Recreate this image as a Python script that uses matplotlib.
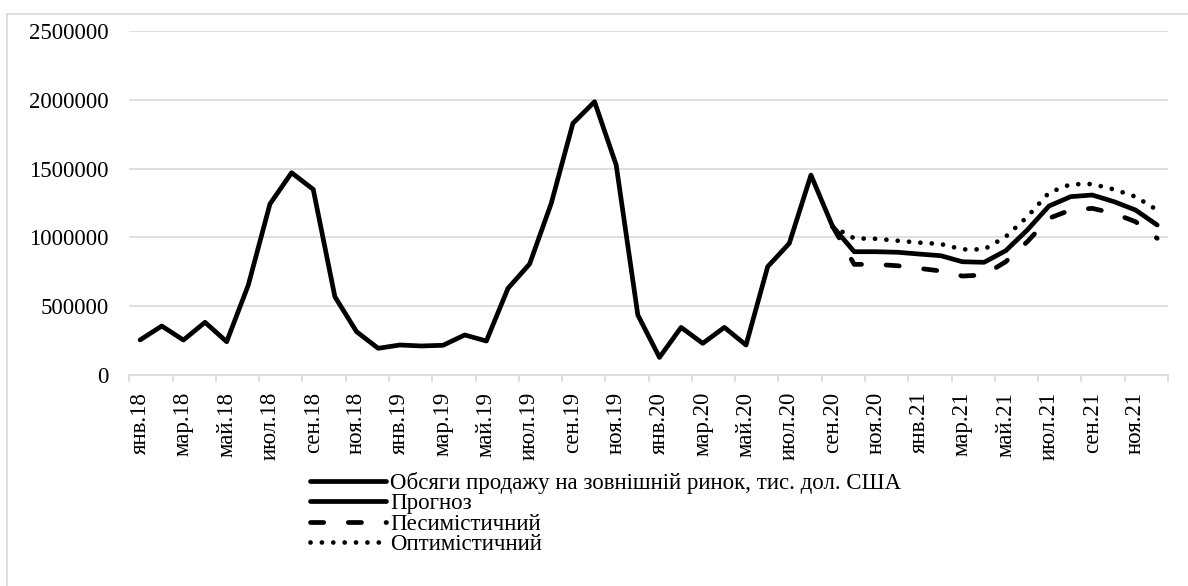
import matplotlib.pyplot as plt
import numpy as np

# місяці янв.18 - дек.21
months = ['янв', 'фев', 'мар', 'апр', 'май', 'июн', 'июл', 'авг', 'сен', 'окт', 'ноя', 'дек']
years = ['18', '19', '20', '21']
labels = [m + '.' + y for y in years for m in months]

# фактичні обсяги, янв.18 - сен.20
sales = [255000, 356000, 254000, 383000, 242000, 654000, 1243000, 1470000, 1349000,
         569000, 315000, 194000, 218000, 211000, 216000, 291000, 247000, 630000,
         807000, 1248000, 1829000, 1986000, 1526000, 436000, 128000, 346000, 230000,
         346000, 218000, 787000, 957000, 1453000, 1080000]

# прогноз, сен.20 - дек.21
forecast = [1080000, 896000, 896000, 892000, 879000, 867000, 823000, 819000, 903000,
            1054000, 1228000, 1296000, 1308000, 1260000, 1199000, 1090000]
pessimistic = [1080000, 804000, 804000, 794000, 775000, 756000, 719000, 727000, 823000,
               969000, 1139000, 1199000, 1211000, 1175000, 1114000, 993000]
optimistic = [1080000, 993000, 990000, 976000, 962000, 952000, 913000, 913000, 1005000,
              1150000, 1325000, 1386000, 1388000, 1349000, 1296000, 1199000]

names = ['Обсяги продажу на зовнішній ринок, тис. дол. США', 'Прогноз',
         'Песимістичний', 'Оптимістичний']

plt.rcParams['font.family'] = ['Liberation Serif', 'DejaVu Serif']
fs = 16.5
grid_c = '#d9d9d9'

fig = plt.figure(figsize=(11.88, 5.86), dpi=100)
ax = fig.add_axes([129.3 / 1188, 1 - 375 / 586, (1168 - 129.3) / 1188, (375 - 31) / 586])

x_sales = np.arange(len(sales))
x_fc = np.arange(len(sales) - 1, len(sales) - 1 + len(forecast))

lw = 3.4
ax.plot(x_sales, sales, color='k', lw=lw, solid_joinstyle='round', solid_capstyle='round', label=names[0])
ax.plot(x_fc, forecast, color='k', lw=lw, solid_joinstyle='round', solid_capstyle='round', label=names[1])
ax.plot(x_fc, pessimistic, color='k', lw=lw, linestyle=(0, (2.8, 5.2)),
        dash_capstyle='round', label=names[2])
ax.plot(x_fc, optimistic, color='k', lw=lw, linestyle=(0, (0.01, 2.4)),
        dash_capstyle='round', label=names[3])

ax.set_xlim(-0.5, len(labels) - 0.5)
ax.set_ylim(0, 2500000)
ax.set_yticks([0, 500000, 1000000, 1500000, 2000000, 2500000])
ax.set_yticklabels(['0', '500000', '1000000', '1500000', '2000000', '2500000'], fontsize=fs)
ax.tick_params(axis='y', length=0, pad=15)
ax.grid(axis='y', color=grid_c, lw=1.2)
ax.set_axisbelow(True)

ax.set_xticks(np.arange(0, len(labels), 2))
ax.set_xticklabels(labels[::2], rotation=90, fontsize=fs)
ax.set_xticks(np.arange(-0.5, len(labels), 2), minor=True)
ax.tick_params(axis='x', which='major', length=0, pad=12)
ax.tick_params(axis='x', which='minor', length=5, color=grid_c, width=1.2)

for s in ['top', 'right', 'left']:
    ax.spines[s].set_visible(False)
ax.spines['bottom'].set_color(grid_c)
ax.spines['bottom'].set_linewidth(1.2)

# рамка області діаграми
fig.add_artist(plt.Line2D([7 / 1188, 1], [1 - 14 / 586, 1 - 14 / 586], color=grid_c, lw=1.2))
fig.add_artist(plt.Line2D([7 / 1188, 7 / 1188], [0, 1 - 14 / 586], color=grid_c, lw=1.2))

fig.legend(loc='upper left', bbox_to_anchor=(310 / 1188, 1 - 472 / 586), frameon=False,
           fontsize=fs, handlelength=3.3, handletextpad=0.2, labelspacing=-0.03,
           borderpad=0, borderaxespad=0)

fig.savefig('out.png', dpi=100)
